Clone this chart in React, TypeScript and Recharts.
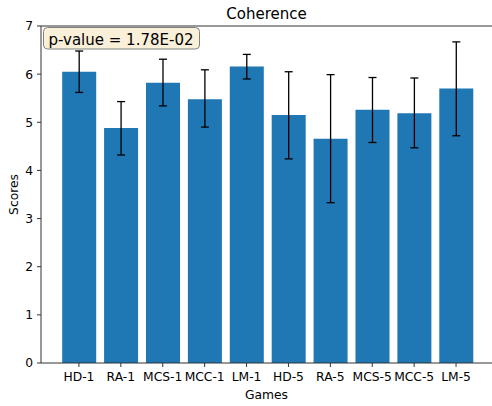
import React from 'react';
import { BarChart, Bar, XAxis, YAxis, ErrorBar, ReferenceLine } from 'recharts';

const games = ['HD-1', 'RA-1', 'MCS-1', 'MCC-1', 'LM-1', 'HD-5', 'RA-5', 'MCS-5', 'MCC-5', 'LM-5'];
const scores = [6.05, 4.88, 5.82, 5.48, 6.16, 5.15, 4.66, 5.26, 5.19, 5.7];
const lowerBounds = [5.62, 4.32, 5.34, 4.9, 5.9, 4.24, 3.33, 4.58, 4.47, 4.72];
const upperBounds = [6.48, 5.43, 6.31, 6.09, 6.41, 6.05, 5.99, 5.93, 5.92, 6.67];
const yTicks = [0, 1, 2, 3, 4, 5, 6, 7];
const pValue = '1.78E-02';

const FONT = '"DejaVu Sans", sans-serif';

const data = games.map((game, i) => ({
    game,
    score: scores[i],
    err: [scores[i] - lowerBounds[i], upperBounds[i] - scores[i]],
}));

// title + p-value box, placed relative to the top spine
const TopDecor = (props: any) => {
    const { x, y, width } = props.viewBox;
    return (
        <g>
            <text x={x + width / 2} y={y - 7.5} textAnchor="middle" fontSize={15} fontFamily={FONT} fill="#000">
                Coherence
            </text>
            <rect x={x + 2.5} y={y + 1.5} width={156} height={21.5} rx={4} ry={4}
                fill="#faefd9" stroke="#808080" strokeWidth={1} />
            <text x={x + 7.5} y={y + 18.5} fontSize={15} fontFamily={FONT} fill="#000">
                {`p-value = ${pValue}`}
            </text>
        </g>
    );
};

const YLabel = (props: any) => {
    const { y, height } = props.viewBox;
    const cy = y + height / 2;
    return (
        <text x={18} y={cy} transform={`rotate(-90, 18, ${cy})`} textAnchor="middle"
            fontSize={12.3} fontFamily={FONT} fill="#000">
            Scores
        </text>
    );
};

export default function App() {
    return (
        <div style={{ position: 'absolute', left: 0, top: 0, background: '#fff' }}>
            <BarChart
                width={492}
                height={406}
                data={data}
                margin={{ top: 26, right: 0, bottom: 0, left: 0 }}
                barCategoryGap="10%"
            >
                <XAxis
                    dataKey="game"
                    height={43}
                    padding={{ left: 17, right: 15 }}
                    interval={0}
                    tickSize={4}
                    tickMargin={5}
                    tick={{ fill: '#000', fontSize: 12.3, fontFamily: FONT }}
                    axisLine={{ stroke: '#333', strokeWidth: 1 }}
                    tickLine={{ stroke: '#333' }}
                    label={{ value: 'Games', position: 'insideBottom', offset: 7, fill: '#000', fontSize: 12.3, fontFamily: FONT }}
                />
                <YAxis
                    width={41}
                    domain={[0, 7]}
                    ticks={yTicks}
                    interval={0}
                    tickSize={4}
                    tickMargin={4}
                    tick={{ fill: '#000', fontSize: 12.3, fontFamily: FONT }}
                    axisLine={{ stroke: '#333', strokeWidth: 1 }}
                    tickLine={{ stroke: '#333' }}
                    label={{ content: YLabel }}
                />
                <ReferenceLine y={7} stroke="#333" strokeWidth={1} ifOverflow="visible" label={{ content: TopDecor }} />
                <Bar dataKey="score" fill="#1f77b4" isAnimationActive={false}>
                    <ErrorBar dataKey="err" width={4} stroke="#000" strokeWidth={1.3} isAnimationActive={false} />
                </Bar>
            </BarChart>
        </div>
    );
}
